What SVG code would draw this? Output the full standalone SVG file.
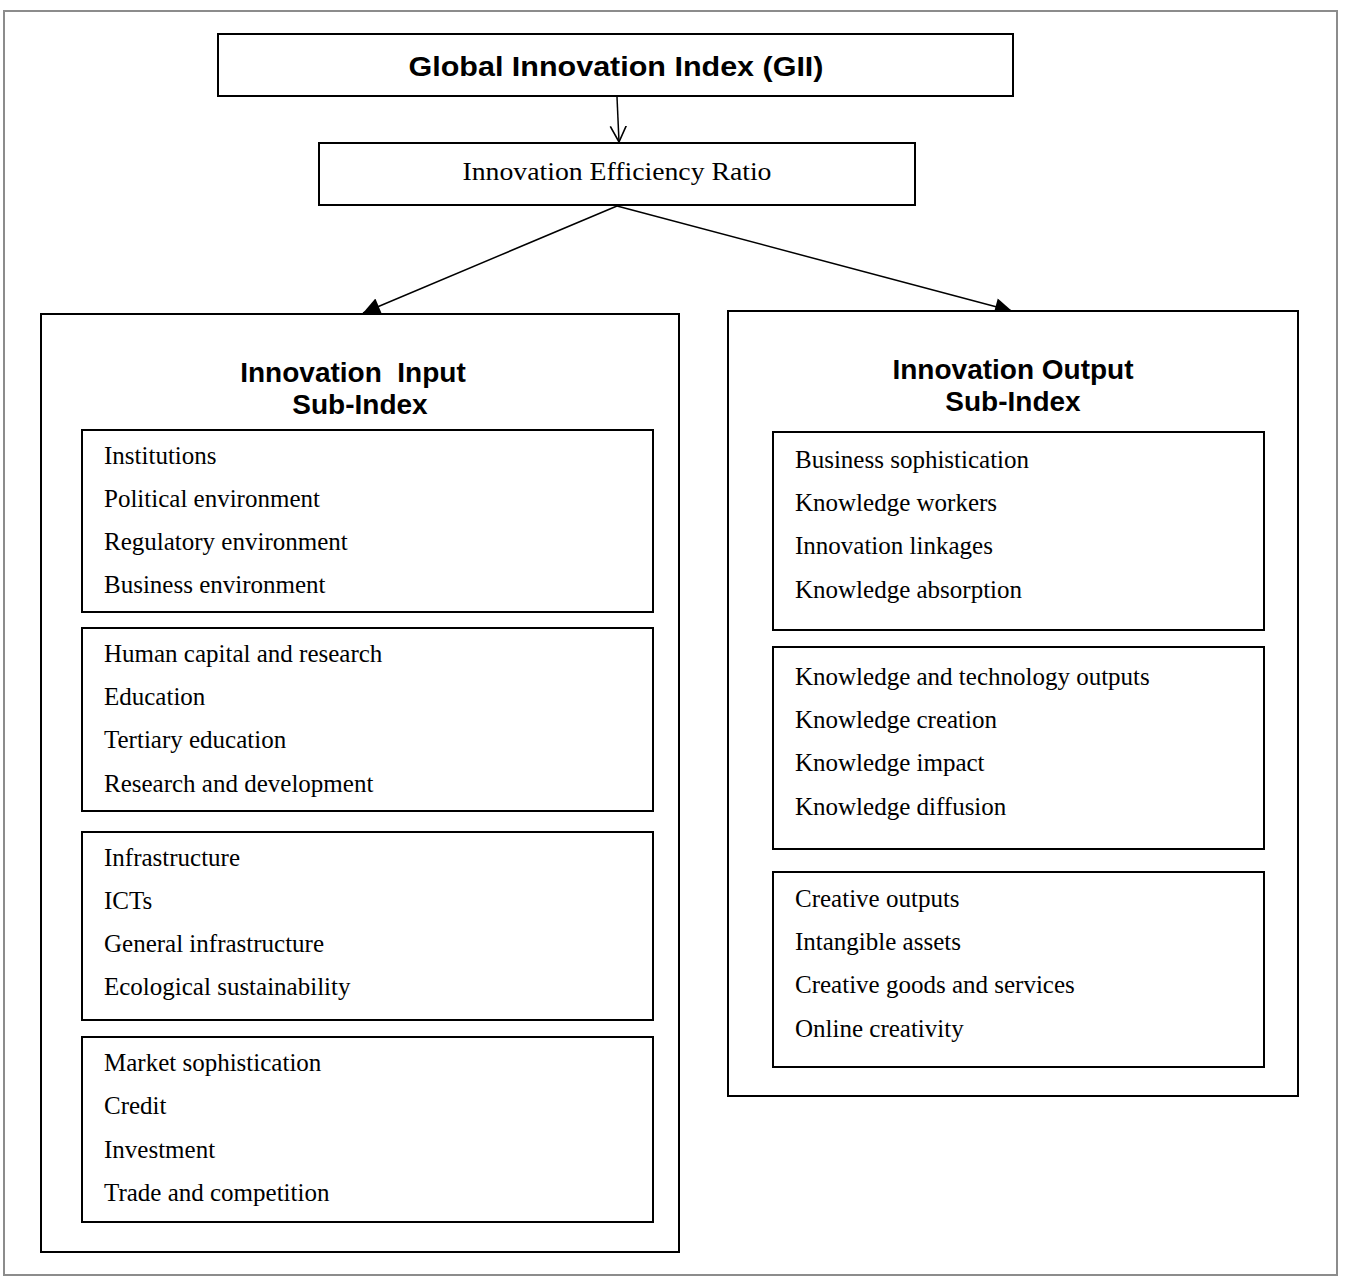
<svg xmlns="http://www.w3.org/2000/svg" width="1357" height="1278" viewBox="0 0 1357 1278">
<defs>
<style>
.box{fill:#fff;stroke:#000;stroke-width:2}
.t{font-family:"Liberation Serif",serif;font-size:25px;fill:#000}
.h{font-family:"Liberation Sans",Arial,sans-serif;font-weight:bold;font-size:28px;fill:#000;text-anchor:middle}
.c{stroke:#000;stroke-width:1.5;fill:none}
</style>
<marker id="fill" viewBox="0 0 10 10" refX="10" refY="5" markerWidth="20" markerHeight="17" markerUnits="userSpaceOnUse" orient="auto"><path d="M0,0 L10,5 L0,10 z" fill="#000"/></marker>
<marker id="open" viewBox="0 0 10 10" refX="10" refY="5" markerWidth="16" markerHeight="22" markerUnits="userSpaceOnUse" orient="auto"><path d="M0,0 L10,5 L0,10" fill="none" stroke="#000" stroke-width="1"/></marker>
</defs>
<rect x="0" y="0" width="1357" height="1278" fill="#fff"/>
<rect x="4" y="11" width="1333" height="1264" fill="none" stroke="#8c8c8c" stroke-width="2"/>
<g id="connectors">
<line class="c" x1="617" y1="97" x2="619" y2="142" marker-end="url(#open)"/>
<line class="c" x1="617" y1="206" x2="363" y2="313" marker-end="url(#fill)"/>
<line class="c" x1="617" y1="206" x2="1012" y2="311" marker-end="url(#fill)"/>
</g>
<g id="gii">
<rect class="box" x="218" y="34" width="795" height="62"/>
<text class="h" x="616" y="76" font-size="33" textLength="415" lengthAdjust="spacingAndGlyphs">Global Innovation Index (GII)</text>
</g>
<g id="ratio">
<rect class="box" x="319" y="143" width="596" height="62"/>
<text class="t" x="617" y="180" text-anchor="middle" font-size="30" textLength="309" lengthAdjust="spacingAndGlyphs">Innovation Efficiency Ratio</text>
</g>
<g id="input">
<rect class="box" x="41" y="314" width="638" height="938"/>
<text class="h" x="353" y="382" xml:space="preserve">Innovation  Input</text>
<text class="h" x="360" y="414">Sub-Index</text>
</g>
<g id="institutions">
<rect class="box" x="82" y="430" width="571" height="182"/>
<text class="t" x="104" y="464">Institutions</text>
<text class="t" x="104" y="507">Political environment</text>
<text class="t" x="104" y="550">Regulatory environment</text>
<text class="t" x="104" y="593">Business environment</text>
</g>
<g id="human-capital">
<rect class="box" x="82" y="628" width="571" height="183"/>
<text class="t" x="104" y="662">Human capital and research</text>
<text class="t" x="104" y="705">Education</text>
<text class="t" x="104" y="748">Tertiary education</text>
<text class="t" x="104" y="792">Research and development</text>
</g>
<g id="infrastructure">
<rect class="box" x="82" y="832" width="571" height="188"/>
<text class="t" x="104" y="866">Infrastructure</text>
<text class="t" x="104" y="909">ICTs</text>
<text class="t" x="104" y="952">General infrastructure</text>
<text class="t" x="104" y="995">Ecological sustainability</text>
</g>
<g id="market">
<rect class="box" x="82" y="1037" width="571" height="185"/>
<text class="t" x="104" y="1071">Market sophistication</text>
<text class="t" x="104" y="1114">Credit</text>
<text class="t" x="104" y="1158">Investment</text>
<text class="t" x="104" y="1201">Trade and competition</text>
</g>
<g id="output">
<rect class="box" x="728" y="311" width="570" height="785"/>
<text class="h" x="1013" y="379">Innovation Output</text>
<text class="h" x="1013" y="411">Sub-Index</text>
</g>
<g id="business">
<rect class="box" x="773" y="432" width="491" height="198"/>
<text class="t" x="795" y="468">Business sophistication</text>
<text class="t" x="795" y="511">Knowledge workers</text>
<text class="t" x="795" y="554">Innovation linkages</text>
<text class="t" x="795" y="598">Knowledge absorption</text>
</g>
<g id="knowledge">
<rect class="box" x="773" y="647" width="491" height="202"/>
<text class="t" x="795" y="685">Knowledge and technology outputs</text>
<text class="t" x="795" y="728">Knowledge creation</text>
<text class="t" x="795" y="771">Knowledge impact</text>
<text class="t" x="795" y="815">Knowledge diffusion</text>
</g>
<g id="creative">
<rect class="box" x="773" y="872" width="491" height="195"/>
<text class="t" x="795" y="907">Creative outputs</text>
<text class="t" x="795" y="950">Intangible assets</text>
<text class="t" x="795" y="993">Creative goods and services</text>
<text class="t" x="795" y="1037">Online creativity</text>
</g>
</svg>
